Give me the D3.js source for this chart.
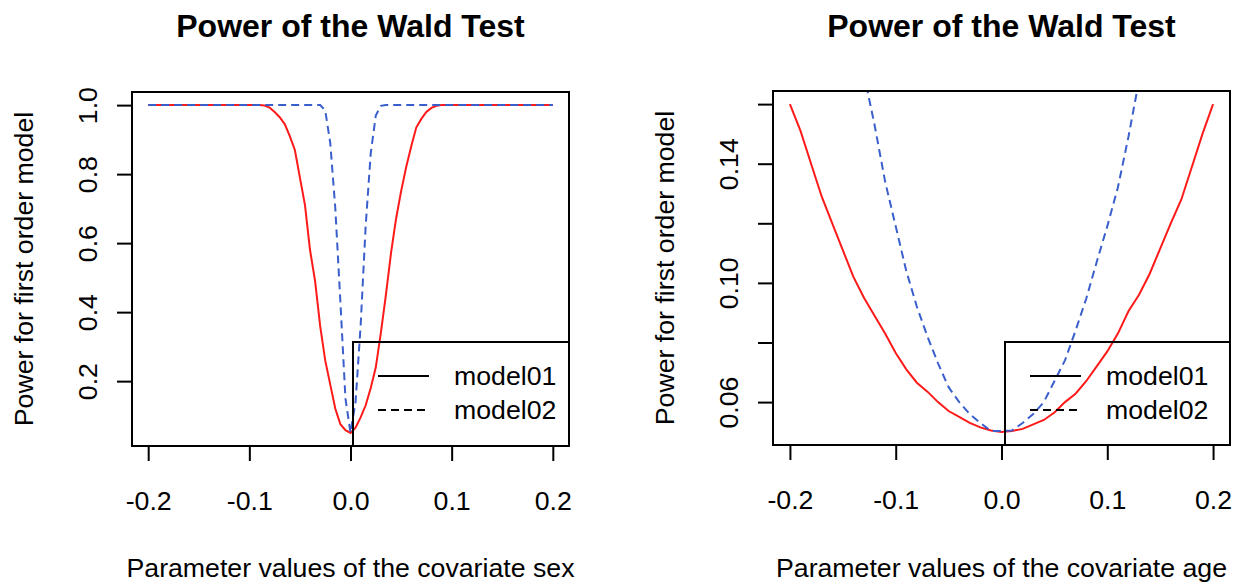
<!DOCTYPE html>
<html>
<head>
<meta charset="utf-8">
<script src="https://cdn.jsdelivr.net/npm/d3@7"></script>
<style>
  body { margin: 0; background: #fff; }
  svg { display: block; font-family: "Liberation Sans", Arial, sans-serif; }
</style>
</head>
<body>
<div id="chart"></div>
<script>
// ---- data ----
var titles = ["Power of the Wald Test", "Power of the Wald Test"];
var xLabels = ["Parameter values of the covariate sex", "Parameter values of the covariate age"];
var yLabel = "Power for first order model";
var seriesNames = ["model01", "model02"];

var xTicks = [-0.2, -0.1, 0.0, 0.1, 0.2];
var sexYTicks = [0.2, 0.4, 0.6, 0.8, 1.0];
var ageYTicks = [0.06, 0.08, 0.10, 0.12, 0.14, 0.16];
var ageYTickLabels = [0.06, 0.10, 0.14];   // R dropped the others (overlap)

var sexX = [-0.2, -0.15, -0.1,
  -0.09, -0.085, -0.08, -0.075, -0.07, -0.065, -0.06, -0.055, -0.05, -0.045,
  -0.04, -0.035, -0.03, -0.025, -0.02, -0.015, -0.01, -0.005, 0,
  0.005, 0.01, 0.015, 0.02, 0.025, 0.03, 0.035, 0.04, 0.045,
  0.05, 0.055, 0.06, 0.065, 0.07, 0.075, 0.08, 0.085, 0.09,
  0.1, 0.15, 0.2];
var sexModel01 = [1, 1, 1,
  1, 0.999, 0.993, 0.98, 0.965, 0.945, 0.91, 0.87, 0.79, 0.71,
  0.58, 0.49, 0.36, 0.26, 0.19, 0.12, 0.075, 0.058, 0.05,
  0.065, 0.095, 0.13, 0.18, 0.24, 0.34, 0.45, 0.57, 0.67,
  0.75, 0.82, 0.88, 0.935, 0.96, 0.98, 0.992, 0.998, 1,
  1, 1, 1];
var sexModel02 = [1, 1, 1,
  1, 1, 1, 1, 1, 1, 1, 1, 1, 1,
  1, 1, 1, 0.985, 0.89, 0.70, 0.43, 0.15, 0.05,
  0.14, 0.36, 0.65, 0.86, 0.97, 0.998, 1, 1, 1,
  1, 1, 1, 1, 1, 1, 1, 1, 1,
  1, 1, 1];

var ageX = [-0.20, -0.19, -0.18, -0.17, -0.16, -0.15, -0.14, -0.13, -0.12, -0.11,
  -0.10, -0.09, -0.08, -0.07, -0.06, -0.05, -0.04, -0.03, -0.02, -0.01, 0.00,
  0.01, 0.02, 0.03, 0.04, 0.05, 0.06, 0.07, 0.08, 0.09, 0.10,
  0.11, 0.12, 0.13, 0.14, 0.15, 0.16, 0.17, 0.18, 0.19, 0.20];
var ageModel01 = [0.160, 0.151, 0.140, 0.129, 0.120, 0.111, 0.102, 0.095, 0.089, 0.083,
  0.0765, 0.071, 0.0665, 0.0635, 0.060, 0.057, 0.055, 0.053, 0.0515, 0.0505, 0.050,
  0.0503, 0.051, 0.0525, 0.054, 0.0565, 0.060, 0.0628, 0.067, 0.072, 0.077,
  0.083, 0.0905, 0.096, 0.103, 0.1115, 0.120, 0.128, 0.139, 0.150, 0.160];
var ageModel02 = [0.33, 0.30, 0.275, 0.25, 0.225, 0.205, 0.186, 0.170, 0.153, 0.134,
  0.119, 0.104, 0.092, 0.082, 0.073, 0.065, 0.060, 0.056, 0.053, 0.0503, 0.0503,
  0.0505, 0.053, 0.056, 0.060, 0.067, 0.074, 0.084, 0.0946, 0.107, 0.119,
  0.132, 0.149, 0.168, 0.188, 0.21, 0.23, 0.255, 0.28, 0.305, 0.335];

// ---- page ----
var W = 1240, H = 584;
var fs = 26.7;
var svg = d3.select("#chart").append("svg").attr("width", W).attr("height", H);

var panels = [
  { id: "sex", left: 132, right: 569, top: 92, bottom: 446, yDom: [0.012, 1.038],
    x: sexX, s1: sexModel01, s2: sexModel02, yTicks: sexYTicks, yLab: sexYTicks,
    title: titles[0], xlab: xLabels[0], legW: 216, fmt: d3.format(".1f") },
  { id: "age", left: 773, right: 1230, top: 91, bottom: 445, yDom: [0.0456, 0.1644],
    x: ageX, s1: ageModel01, s2: ageModel02, yTicks: ageYTicks, yLab: ageYTickLabels,
    title: titles[1], xlab: xLabels[1], legW: 225, fmt: d3.format(".2f") }
];

panels.forEach(function(p) {
  var xs = d3.scaleLinear().domain([-0.216, 0.216]).range([p.left, p.right]);
  var ys = d3.scaleLinear().domain(p.yDom).range([p.bottom, p.top]);
  var cx = (p.left + p.right) / 2, cy = (p.top + p.bottom) / 2;

  svg.append("clipPath").attr("id", "clip-" + p.id)
    .append("rect").attr("x", p.left).attr("y", p.top)
    .attr("width", p.right - p.left).attr("height", p.bottom - p.top);

  var line = d3.line().x(function(d) { return xs(d[0]); }).y(function(d) { return ys(d[1]); });
  var g = svg.append("g").attr("clip-path", "url(#clip-" + p.id + ")");
  g.append("path").datum(d3.zip(p.x, p.s1)).attr("d", line)
    .attr("fill", "none").attr("stroke", "#ff1a1a").attr("stroke-width", 2);
  g.append("path").datum(d3.zip(p.x, p.s2)).attr("d", line)
    .attr("fill", "none").attr("stroke", "#3a5fcd").attr("stroke-width", 2)
    .attr("stroke-dasharray", "8,5");

  // x axis
  var xa = svg.append("g").attr("transform", "translate(0," + p.bottom + ")")
    .call(d3.axisBottom(xs).tickValues(xTicks).tickSize(15).tickSizeOuter(0)
      .tickFormat(d3.format(".1f")));
  xa.select(".domain").remove();
  xa.selectAll("line").attr("stroke", "#000").attr("stroke-width", 2);
  xa.selectAll("text").attr("y", 64).attr("dy", null)
    .attr("font-size", fs).attr("fill", "#000").style("font-family", "Liberation Sans, Arial, sans-serif")
    .text(function(d) { return d3.format(".1f")(d).replace("−", "-"); });

  // y axis
  var ya = svg.append("g").attr("transform", "translate(" + p.left + ",0)")
    .call(d3.axisLeft(ys).tickValues(p.yTicks).tickSize(15).tickSizeOuter(0)
      .tickFormat(function(d) {
        return p.yLab.some(function(v) { return Math.abs(v - d) < 1e-9; }) ? p.fmt(d) : "";
      }));
  ya.select(".domain").remove();
  ya.selectAll("line").attr("stroke", "#000").attr("stroke-width", 2);
  ya.selectAll("text").attr("x", null).attr("dy", null)
    .attr("transform", "translate(-35,0) rotate(-90)")
    .attr("text-anchor", "middle")
    .attr("font-size", fs).attr("fill", "#000").style("font-family", "Liberation Sans, Arial, sans-serif");

  // box
  svg.append("rect").attr("x", p.left).attr("y", p.top)
    .attr("width", p.right - p.left).attr("height", p.bottom - p.top)
    .attr("fill", "none").attr("stroke", "#000").attr("stroke-width", 2);

  // titles
  svg.append("text").attr("x", cx).attr("y", 37).attr("text-anchor", "middle")
    .attr("font-size", 32).attr("font-weight", "bold").text(p.title);
  svg.append("text").attr("x", cx).attr("y", 577).attr("text-anchor", "middle")
    .attr("font-size", fs).text(p.xlab);
  svg.append("text").attr("transform", "translate(" + (p.left - 99) + "," + cy + ") rotate(-90)")
    .attr("text-anchor", "middle").attr("font-size", fs).text(yLabel);

  // legend (bottom right)
  var lx = p.right - p.legW, ly = 342;
  svg.append("rect").attr("x", lx).attr("y", ly)
    .attr("width", p.legW).attr("height", p.bottom - ly)
    .attr("fill", "none").attr("stroke", "#000").attr("stroke-width", 2);
  seriesNames.forEach(function(name, i) {
    var yy = ly + 34 + i * 34;
    svg.append("line").attr("x1", lx + 25).attr("x2", lx + 76)
      .attr("y1", yy).attr("y2", yy)
      .attr("stroke", "#000").attr("stroke-width", 2)
      .attr("stroke-dasharray", i === 1 ? "8,5" : null);
    svg.append("text").attr("x", lx + 101).attr("y", yy).attr("dy", "0.35em")
      .attr("font-size", fs).text(name);
  });
});
</script>
</body>
</html>
